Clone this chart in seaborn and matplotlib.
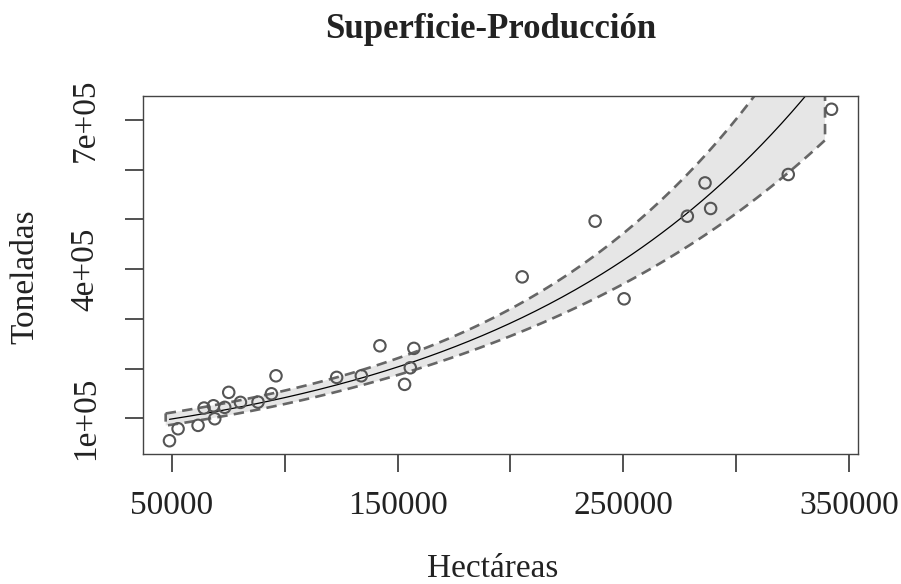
import matplotlib
matplotlib.use("Agg")
import matplotlib.pyplot as plt
import seaborn as sns
import numpy as np
import pandas as pd

# ── Data ─────────────────────────────────────────────────────────────────────
hectareas = [48980, 52790, 61640, 64290, 68450, 69030, 73450, 75220, 80400,
             88190, 94120, 96150, 123010, 133940, 142170, 153100, 155620,
             157210, 205180, 237480, 250310, 278320, 286150, 288630, 323010,
             342170]
toneladas = [55000, 79100, 85900, 120700, 125300, 99200, 122100, 152200,
             132100, 132700, 149400, 185500, 182300, 185500, 245800, 168300,
             201600, 240600, 384300, 496200, 340200, 506200, 573100, 521700,
             590000, 721100]
band_x_range = [47300, 339300]   # extent of the prediction grid for the band

x_ticks = [50000, 100000, 150000, 200000, 250000, 300000, 350000]
x_ticklabels = ["50000", "", "150000", "", "250000", "", "350000"]
y_ticks = [100000, 200000, 300000, 400000, 500000, 600000, 700000]
y_ticklabels = ["1e+05", "", "", "4e+05", "", "", "7e+05"]

title = "Superficie-Producción"
xlabel = "Hectáreas"
ylabel = "Toneladas"

df = pd.DataFrame({"x": hectareas, "y": toneladas})

# ── Log-linear fit with 95% confidence band ──────────────────────────────────
x = df["x"].to_numpy(float)
ly = np.log(df["y"].to_numpy(float))
n = len(x)
b, a = np.polyfit(x, ly, 1)
resid = ly - (a + b * x)
s = np.sqrt((resid ** 2).sum() / (n - 2))
sxx = ((x - x.mean()) ** 2).sum()
t975 = 2.064  # t quantile, df = 24

def band(xg):
    se = s * np.sqrt(1 / n + (xg - x.mean()) ** 2 / sxx)
    fit = a + b * xg
    return np.exp(fit), np.exp(fit - t975 * se), np.exp(fit + t975 * se)

xg = np.linspace(band_x_range[0], band_x_range[1], 200)
_, lo, hi = band(xg)
xc = np.linspace(x.min(), x.max(), 200)
curve = pd.DataFrame({"x": xc, "y": band(xc)[0]})

# ── Plot ─────────────────────────────────────────────────────────────────────
sns.set_style("white")
plt.rcParams["font.family"] = ["Liberation Serif", "DejaVu Serif"]
plt.rcParams["lines.scale_dashes"] = False

fig = plt.figure(figsize=(9.01, 5.84), dpi=100)
ax = fig.add_axes([143 / 901, 1 - 454 / 584, 715 / 901, 358 / 584])

ax.fill(np.r_[xg, xg[::-1]], np.r_[hi, lo[::-1]], facecolor="#e6e6e6",
        edgecolor="#666666", linewidth=1.9, linestyle=(0, (7.5, 4.5)), zorder=1)
sns.lineplot(data=curve, x="x", y="y", ax=ax, color="black", linewidth=0.9,
             zorder=2)
sns.scatterplot(data=df, x="x", y="y", ax=ax, marker="o", s=68,
                facecolor="none", edgecolor="#555555", linewidth=1.5, zorder=3)

xr = x.max() - x.min()
yr = df["y"].max() - df["y"].min()
ax.set_xlim(x.min() - 0.04 * xr, x.max() + 0.04 * xr)
ax.set_ylim(df["y"].min() - 0.04 * yr, df["y"].max() + 0.04 * yr)

ax.set_xticks(x_ticks)
ax.set_xticklabels(x_ticklabels)
ax.set_yticks(y_ticks)
ax.set_yticklabels(y_ticklabels, rotation=90, va="center")
ax.tick_params(axis="both", direction="out", length=13, width=1.1,
               color="#222222", labelsize=24, labelcolor="#222222",
               bottom=True, left=True)
ax.tick_params(axis="x", pad=13)
ax.tick_params(axis="y", pad=17.4)

for sp in ax.spines.values():
    sp.set_color("#444444")
    sp.set_linewidth(1.0)

ax.set_xlabel(xlabel, fontsize=24, color="#222222")
ax.xaxis.label.set_va("baseline")
ax.xaxis.set_label_coords((493 - 143) / 715, (454 - 577) / 358)
ax.set_ylabel(ylabel, fontsize=24, color="#222222")
ax.yaxis.label.set_va("baseline")
ax.yaxis.set_label_coords((33 - 143) / 715, (454 - 277) / 358)
fig.text(491 / 901, 1 - 38 / 584, title, ha="center", va="baseline",
         fontsize=25, fontweight="bold", color="#222222")

fig.savefig("out.png", dpi=100)
